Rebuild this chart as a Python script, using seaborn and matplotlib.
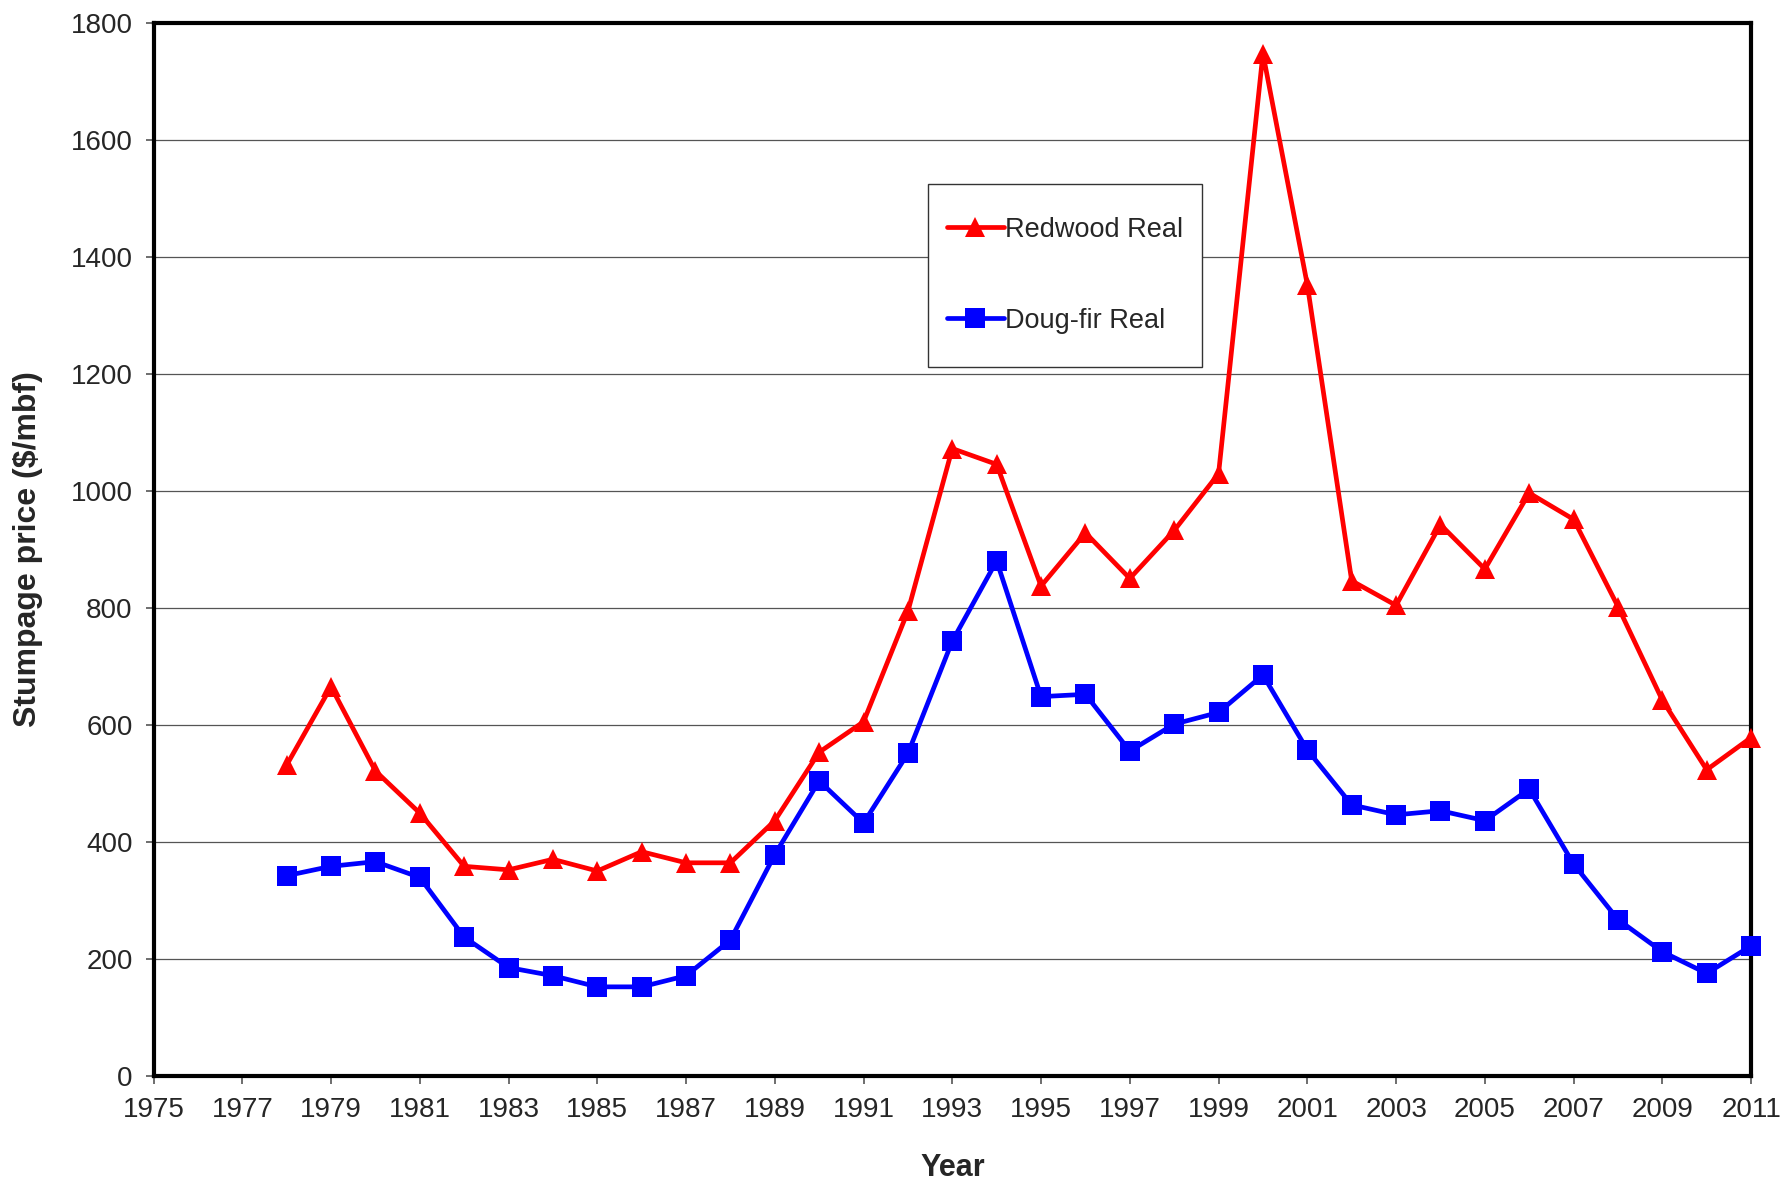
import pandas as pd
import matplotlib
matplotlib.use("Agg")
import matplotlib.pyplot as plt
from matplotlib.patches import Rectangle
import seaborn as sns

years = list(range(1978, 2012))
redwood_real = [531, 665, 521, 449, 358, 352, 370, 350, 383, 364, 364, 436, 553, 605,
                794, 1072, 1045, 837, 928, 850, 932, 1029, 1747, 1352, 846, 804, 942,
                866, 996, 951, 802, 642, 523, 578]
dougfir_real = [342, 358, 366, 339, 237, 185, 171, 152, 152, 171, 232, 378, 504, 432,
                551, 743, 880, 648, 652, 555, 601, 621, 685, 557, 463, 446, 453, 436,
                490, 362, 267, 212, 175, 222]
series_names = ["Redwood Real", "Doug-fir Real"]
x_ticks = list(range(1975, 2012, 2))
y_ticks = list(range(0, 1801, 200))

df = pd.DataFrame({
    "year": years * 2,
    "price": redwood_real + dougfir_real,
    "series": [series_names[0]] * len(years) + [series_names[1]] * len(years),
})

sns.set_style("white")
plt.rcParams["font.family"] = ["Liberation Sans", "DejaVu Sans"]

fig = plt.figure(figsize=(17.85, 11.84), dpi=100)
ax = fig.add_axes([0.086, 0.0914, 0.895, 0.8895])

# horizontal gridlines
for v in y_ticks[1:]:
    ax.axhline(v, color="#555555", linewidth=0.9, zorder=0)

sns.lineplot(data=df, x="year", y="price", hue="series", style="series",
             palette={"Redwood Real": "#ff0000", "Doug-fir Real": "#0000ff"},
             markers={"Redwood Real": "^", "Doug-fir Real": "s"},
             dashes=False, linewidth=3.4, markersize=14, markeredgewidth=0,
             ax=ax, clip_on=False, zorder=3)

ax.set_xlim(1975, 2011)
ax.set_ylim(0, 1800)
ax.set_xticks(x_ticks)
ax.set_yticks(y_ticks)
ax.tick_params(axis="both", labelsize=20, direction="out", length=6, width=1.2,
               color="#555555", bottom=True, left=True, pad=9)

for s in ax.spines.values():
    s.set_color("black")
    s.set_linewidth(3)
    s.set_visible(True)

ax.set_xlabel("Year", fontsize=22, fontweight="bold", labelpad=22)
ax.set_ylabel("Stumpage price ($/mbf)", fontsize=23, fontweight="bold", labelpad=20)

# legend box drawn separately so its padding can be taller than wide
ax.add_patch(Rectangle((0.485, 0.673), 0.171, 0.174, transform=ax.transAxes,
                       facecolor="white", edgecolor="#333333", linewidth=1.0,
                       zorder=4))
leg = ax.legend(loc="center", bbox_to_anchor=(0.5705, 0.76), fontsize=19.5,
                frameon=False, labelspacing=2.4, handlelength=2.1,
                handletextpad=0.05, borderpad=0, borderaxespad=0)
leg.set_zorder(5)

fig.savefig("out.png", dpi=100)
